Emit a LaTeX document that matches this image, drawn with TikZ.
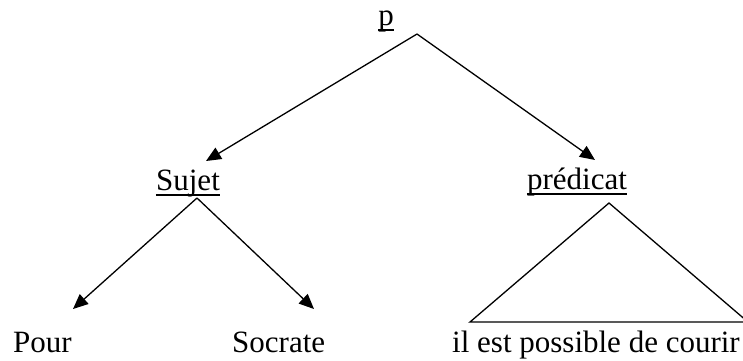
\documentclass[tikz,border=0pt]{standalone}
\usepackage{fontspec}
\setmainfont{Liberation Serif}
\usetikzlibrary{arrows.meta}
\begin{document}
\begin{tikzpicture}[x=1pt,y=1pt,
  lbl/.style={inner sep=0pt,font=\fontsize{31}{36}\selectfont},
  conn/.style={line width=1.3pt},
  arr/.style={conn,-{Triangle[length=15pt,width=13pt]}},
  uline/.style={line width=1.2pt}]
\useasboundingbox (0,0) rectangle (743,-360);
\clip (0,0) rectangle (743,-360);
% labels
\node[lbl,anchor=base] (p) at (386,-25) {p};
\node[lbl,anchor=base] (suj) at (188,-190) {Sujet};
\node[lbl,anchor=base] (pred) at (577,-189) {prédicat};
\node[lbl,anchor=base west] (pour) at (13,-352) {Pour};
\node[lbl,anchor=base west] (soc) at (232,-352) {Socrate};
\node[lbl,anchor=base west] (il) at (452,-352) {il est possible de courir};
% underlines
\draw[uline] ([yshift=-5pt]p.base west) -- ([yshift=-5pt]p.base east);
\draw[uline] ([yshift=-5pt]suj.base west) -- ([yshift=-5pt]suj.base east);
\draw[uline] ([yshift=-5pt]pred.base west) -- ([yshift=-5pt]pred.base east);
% connector points
\coordinate (pa) at (417,-34);
\coordinate (sa) at (197,-198);
\coordinate (sujtip) at (206,-161);
\coordinate (predtip) at (595,-160);
\coordinate (pourtip) at (73,-309);
\coordinate (soctip) at (314,-309);
\coordinate (ta) at (609,-203);
\coordinate (tl) at (470,-322);
\coordinate (tr) at (748,-322);
% arrows
\draw[arr] (pa) -- (sujtip);
\draw[arr] (pa) -- (predtip);
\draw[arr] (sa) -- (pourtip);
\draw[arr] (sa) -- (soctip);
% triangle
\draw[conn,line join=miter] (tr) -- (ta) -- (tl) -- cycle;
\end{tikzpicture}
\end{document}
